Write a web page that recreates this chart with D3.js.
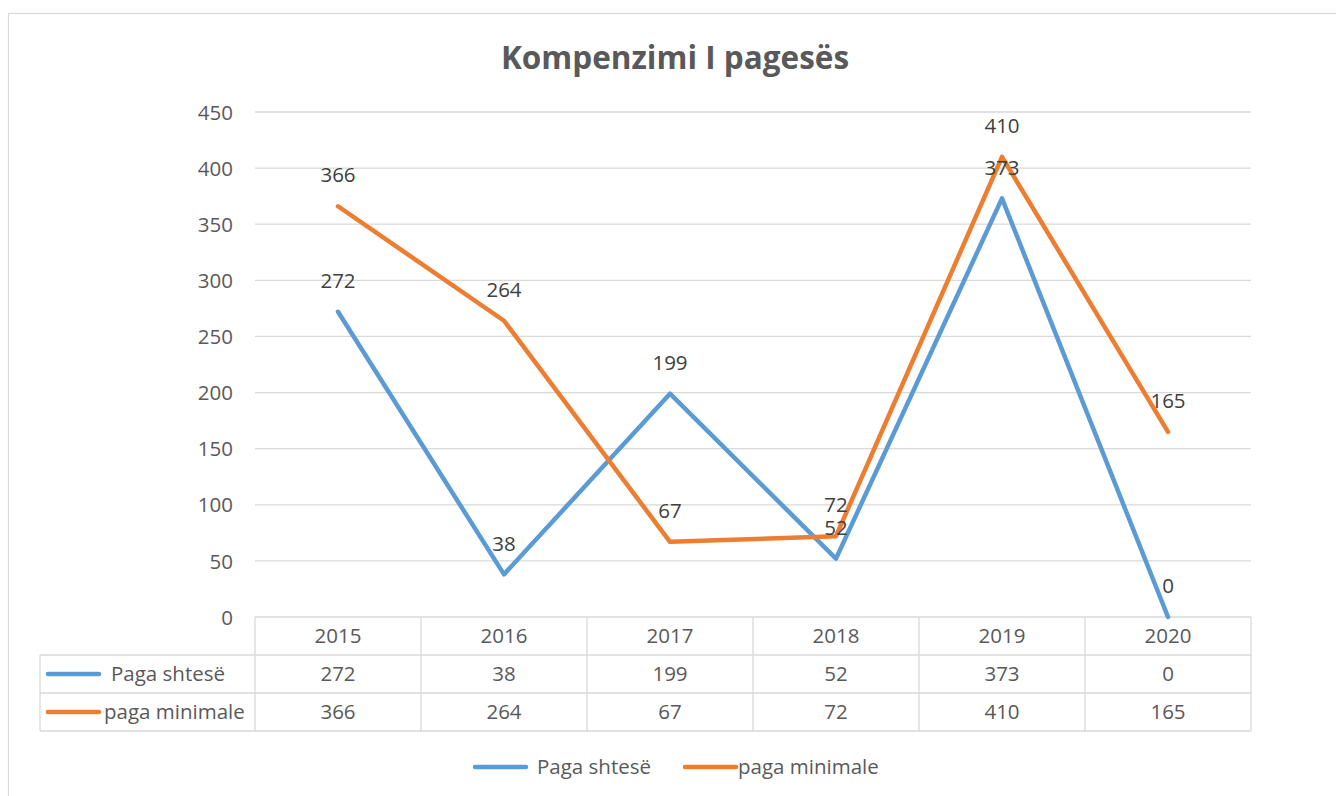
<!DOCTYPE html>
<html>
<head>
<meta charset="utf-8">
<script src="https://cdn.jsdelivr.net/npm/d3@7"></script>
<style>
  html, body { margin: 0; padding: 0; background: #fff; }
  svg { display: block; }
</style>
</head>
<body>
<svg id="chart" width="1336" height="796"></svg>
<script>
// Chart data
const years = ["2015", "2016", "2017", "2018", "2019", "2020"];
const pagaShtese = [272, 38, 199, 52, 373, 0];
const pagaMinimale = [366, 264, 67, 72, 410, 165];
const seriesNames = ["Paga shtesë", "paga minimale"];
const seriesColors = ["#5B9BD5", "#ED7D31"];
const yTicks = [0, 50, 100, 150, 200, 250, 300, 350, 400, 450];
const title = "Kompenzimi I pagesës";

const series = [
  { name: seriesNames[0], color: seriesColors[0], values: pagaShtese },
  { name: seriesNames[1], color: seriesColors[1], values: pagaMinimale }
];

const FONT = "'Open Sans', 'Noto Sans', sans-serif";
const FS = 20.5;
const svg = d3.select("#chart");
const grid = "#d9d9d9";
const textCol = "#595959";

// Outer chart frame
svg.append("rect")
  .attr("x", 8.5).attr("y", 13.5)
  .attr("width", 1500).attr("height", 1000)
  .attr("fill", "#fff").attr("stroke", grid).attr("stroke-width", 1.2);

// Title
svg.append("text")
  .attr("x", 675).attr("y", 69)
  .attr("text-anchor", "middle")
  .attr("font-family", FONT).attr("font-size", 31.5).attr("font-weight", 700)
  .attr("fill", textCol)
  .text(title);

const plot = { left: 255, right: 1251, top: 112, bottom: 617 };

const x = d3.scaleBand().domain(years).range([plot.left, plot.right]);
const y = d3.scaleLinear().domain([0, 450]).range([plot.bottom, plot.top]);

// Horizontal gridlines
svg.append("g")
  .selectAll("line").data(yTicks.filter(d => d > 0)).join("line")
  .attr("x1", plot.left).attr("x2", plot.right)
  .attr("y1", d => y(d)).attr("y2", d => y(d))
  .attr("stroke", grid).attr("stroke-width", 1.3);

// Y axis labels
const yAxis = d3.axisLeft(y).tickValues(yTicks).tickSize(0).tickPadding(0);
const yg = svg.append("g").attr("transform", `translate(${plot.left - 22},0)`).call(yAxis);
yg.select(".domain").remove();
yg.selectAll("text")
  .attr("font-family", FONT).attr("font-size", FS).attr("fill", textCol)
  .attr("dy", "0.35em");

// Data table below the plot
const rowH = 38;
const tableLeft = 40;
const tableTop = plot.bottom;
const tg = svg.append("g");

// horizontal borders
const hLines = [
  { y: tableTop, x1: plot.left, x2: plot.right },
  { y: tableTop + rowH, x1: tableLeft, x2: plot.right },
  { y: tableTop + 2 * rowH, x1: tableLeft, x2: plot.right },
  { y: tableTop + 3 * rowH, x1: tableLeft, x2: plot.right }
];
tg.selectAll("line.h").data(hLines).join("line").attr("class", "h")
  .attr("x1", d => d.x1).attr("x2", d => d.x2)
  .attr("y1", d => d.y).attr("y2", d => d.y)
  .attr("stroke", grid).attr("stroke-width", 1.3);

// vertical borders
const vEdges = years.map(d => x(d)).concat([plot.right]);
tg.selectAll("line.v").data(vEdges).join("line").attr("class", "v")
  .attr("x1", d => d).attr("x2", d => d)
  .attr("y1", tableTop).attr("y2", tableTop + 3 * rowH)
  .attr("stroke", grid).attr("stroke-width", 1.3);
tg.append("line")
  .attr("x1", tableLeft).attr("x2", tableLeft)
  .attr("y1", tableTop + rowH).attr("y2", tableTop + 3 * rowH)
  .attr("stroke", grid).attr("stroke-width", 1.3);

// header row: years
tg.selectAll("text.yr").data(years).join("text").attr("class", "yr")
  .attr("x", d => x(d) + x.bandwidth() / 2)
  .attr("y", tableTop + rowH / 2)
  .attr("dy", "0.35em")
  .attr("text-anchor", "middle")
  .attr("font-family", FONT).attr("font-size", FS).attr("fill", textCol)
  .text(d => d);

// series rows
series.forEach((s, i) => {
  const cy = tableTop + rowH * (i + 1) + rowH / 2;
  tg.append("line")
    .attr("x1", 48).attr("x2", 99)
    .attr("y1", cy).attr("y2", cy)
    .attr("stroke", s.color).attr("stroke-width", 4.5).attr("stroke-linecap", "round");
  tg.append("text")
    .attr("x", i === 0 ? 111 : 104).attr("y", cy).attr("dy", "0.35em")
    .attr("font-family", FONT).attr("font-size", FS).attr("fill", textCol)
    .text(s.name);
  tg.selectAll(null).data(s.values).join("text")
    .attr("x", (d, j) => x(years[j]) + x.bandwidth() / 2)
    .attr("y", cy).attr("dy", "0.35em")
    .attr("text-anchor", "middle")
    .attr("font-family", FONT).attr("font-size", FS).attr("fill", textCol)
    .text(d => d);
});

// Lines
const line = d3.line()
  .x((d, j) => x(years[j]) + x.bandwidth() / 2)
  .y(d => y(d));

series.forEach(s => {
  svg.append("path")
    .datum(s.values)
    .attr("d", line)
    .attr("fill", "none")
    .attr("stroke", s.color).attr("stroke-width", 4.5)
    .attr("stroke-linejoin", "round").attr("stroke-linecap", "round");
});

// Data labels above each point
series.forEach(s => {
  svg.append("g").selectAll("text").data(s.values).join("text")
    .attr("x", (d, j) => x(years[j]) + x.bandwidth() / 2)
    .attr("y", d => y(d) - 31)
    .attr("dy", "0.35em")
    .attr("text-anchor", "middle")
    .attr("font-family", FONT).attr("font-size", FS).attr("fill", "#404040")
    .text(d => d);
});

// Legend
const legend = svg.append("g");
const legendItems = [
  { s: series[0], lx: 475, tx: 537 },
  { s: series[1], lx: 685, tx: 738 }
];
legendItems.forEach(it => {
  legend.append("line")
    .attr("x1", it.lx).attr("x2", it.lx + 51)
    .attr("y1", 767).attr("y2", 767)
    .attr("stroke", it.s.color).attr("stroke-width", 4.5).attr("stroke-linecap", "round");
  legend.append("text")
    .attr("x", it.tx).attr("y", 767).attr("dy", "0.35em")
    .attr("font-family", FONT).attr("font-size", FS).attr("fill", textCol)
    .text(it.s.name);
});
</script>
</body>
</html>
